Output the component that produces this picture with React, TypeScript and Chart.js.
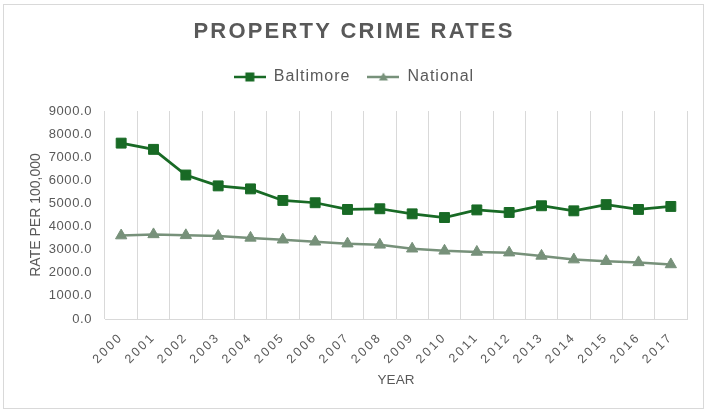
import React, { useEffect, useRef } from 'react';
import { Chart, registerables } from 'chart.js';

Chart.register(...registerables);

const years = ['2000', '2001', '2002', '2003', '2004', '2005', '2006', '2007', '2008', '2009', '2010', '2011', '2012', '2013', '2014', '2015', '2016', '2017'];
const baltimore = [7610, 7340, 6230, 5760, 5630, 5130, 5030, 4740, 4770, 4550, 4390, 4720, 4610, 4900, 4680, 4950, 4740, 4870];
const national = [3610, 3660, 3620, 3590, 3510, 3430, 3340, 3260, 3210, 3040, 2950, 2900, 2870, 2730, 2570, 2500, 2450, 2360];
const seriesNames = ['Baltimore', 'National'];
const chartTitle = 'PROPERTY CRIME RATES';
const yTitle = 'RATE PER 100,000';
const xTitle = 'YEAR';

const BALT = '#186a25';
const NAT = '#77917a';
const TEXT = '#595959';
const GRID = '#d9d9d9';

function patchSpacing(obj: any, method: string, spacing: string) {
  const key = '__sp_' + method;
  if (!obj || obj[key]) return;
  const orig = obj[method];
  obj[method] = function (...args: any[]) {
    const c = this.ctx;
    const prev = c.letterSpacing;
    c.letterSpacing = spacing;
    try {
      return orig.apply(this, args);
    } finally {
      c.letterSpacing = prev;
    }
  };
  obj[key] = true;
}

function makeIcon(color: string, kind: 'rect' | 'triangle') {
  const c = document.createElement('canvas');
  c.width = 32;
  c.height = 12;
  const g = c.getContext('2d')!;
  g.strokeStyle = color;
  g.fillStyle = color;
  g.lineWidth = 2.5;
  g.beginPath();
  g.moveTo(0, 6);
  g.lineTo(32, 6);
  g.stroke();
  g.beginPath();
  if (kind === 'rect') {
    g.rect(11.5, 1.5, 9, 9);
  } else {
    g.moveTo(16, 1.5);
    g.lineTo(20.5, 9.5);
    g.lineTo(11.5, 9.5);
    g.closePath();
  }
  g.fill();
  return c;
}

export default function App() {
  const ref = useRef<HTMLCanvasElement | null>(null);

  useEffect(() => {
    document.body.style.margin = '0';
    const canvas = ref.current!;
    const icons = [makeIcon(BALT, 'rect'), makeIcon(NAT, 'triangle')];

    const frame = {
      id: 'frame',
      beforeUpdate(chart: any) {
        chart.ctx.letterSpacing = '1px';
        const lg = chart.legend;
        if (lg && !lg.__pf) {
          const orig = lg.fit;
          lg.fit = function (...args: any[]) {
            orig.apply(this, args);
            this.height += 16;
          };
          lg.__pf = true;
        }
      },
      beforeDraw(chart: any) {
        const ctx = chart.ctx;
        ctx.letterSpacing = '1px';
        ctx.save();
        ctx.fillStyle = '#ffffff';
        ctx.fillRect(0, 0, chart.width, chart.height);
        ctx.strokeStyle = GRID;
        ctx.lineWidth = 1;
        ctx.strokeRect(3.5, 4.5, 700, 404);
        ctx.restore();
        patchSpacing(chart.scales.x, 'drawLabels', '2.3px');
        patchSpacing(chart.scales.y, 'drawLabels', '0.6px');
        patchSpacing(chart.scales.x, 'drawTitle', '0px');
        patchSpacing(chart.scales.y, 'drawTitle', '0px');
        patchSpacing(chart.titleBlock, 'draw', '2.2px');
      },
    };

    const chart = new Chart(canvas, {
      type: 'line',
      data: {
        labels: years,
        datasets: [
          {
            label: seriesNames[0],
            data: baltimore,
            borderColor: BALT,
            backgroundColor: BALT,
            borderWidth: 2.75,
            pointStyle: 'rect',
            pointRadius: 7,
            pointBorderWidth: 1,
            pointBackgroundColor: BALT,
            pointBorderColor: BALT,
            tension: 0,
          },
          {
            label: seriesNames[1],
            data: national,
            borderColor: NAT,
            backgroundColor: NAT,
            borderWidth: 2.5,
            pointStyle: 'triangle',
            pointRadius: 6.5,
            pointBorderWidth: 1,
            pointBackgroundColor: NAT,
            pointBorderColor: NAT,
            tension: 0,
          },
        ],
      },
      options: {
        responsive: false,
        animation: false,
        devicePixelRatio: 1,
        layout: { padding: { top: 0, left: 21, right: 21, bottom: 0 } },
        plugins: {
          title: {
            display: true,
            text: chartTitle,
            color: TEXT,
            font: { family: 'Liberation Sans, Arial, sans-serif', size: 22, weight: 'bold', lineHeight: 1.2 },
            padding: { top: 18.8, bottom: 6.8 },
          },
          legend: {
            display: true,
            position: 'top',
            labels: {
              color: TEXT,
              font: { family: 'Liberation Sans, Arial, sans-serif', size: 16 },
              usePointStyle: true,
              pointStyleWidth: 32,
              padding: 17,
              generateLabels: (ch: any) =>
                ch.data.datasets.map((ds: any, i: number) => ({
                  text: ds.label,
                  pointStyle: icons[i],
                  fillStyle: ds.borderColor,
                  strokeStyle: ds.borderColor,
                  lineWidth: 0,
                  hidden: false,
                  datasetIndex: i,
                  fontColor: TEXT,
                })),
            },
          },
          tooltip: { enabled: false },
        },
        scales: {
          x: {
            offset: true,
            grid: { display: true, color: GRID, lineWidth: 1, offset: true, drawTicks: false },
            border: { display: true, color: GRID, width: 1 },
            ticks: {
              autoSkip: false,
              maxRotation: 45,
              minRotation: 45,
              padding: 11,
              color: TEXT,
              font: { family: 'Liberation Sans, Arial, sans-serif', size: 12.5 },
            },
            title: {
              display: true,
              text: xTitle,
              color: TEXT,
              font: { family: 'Liberation Sans, Arial, sans-serif', size: 13.5, lineHeight: 1.2 },
              padding: { top: 0, bottom: 24.9 },
            },
            afterFit: (s: any) => {
              s.height = 94;
            },
          },
          y: {
            min: 0,
            max: 9000,
            grid: { display: false, drawTicks: false },
            border: { display: false },
            ticks: {
              stepSize: 1000,
              padding: 13,
              color: TEXT,
              font: { family: 'Liberation Sans, Arial, sans-serif', size: 13 },
              callback: (v: any) => Number(v).toFixed(1),
            },
            title: {
              display: true,
              text: yTitle,
              color: TEXT,
              font: { family: 'Liberation Sans, Arial, sans-serif', size: 14, lineHeight: 1.2 },
              padding: { top: 6.6, bottom: 0 },
            },
            afterFit: (s: any) => {
              s.width = 84;
            },
          },
        },
      },
      plugins: [frame],
    } as any);

    return () => chart.destroy();
  }, []);

  return (
    <div style={{ width: 708, height: 413 }}>
      <canvas ref={ref} width={708} height={413} style={{ display: 'block', width: 708, height: 413 }} />
    </div>
  );
}
